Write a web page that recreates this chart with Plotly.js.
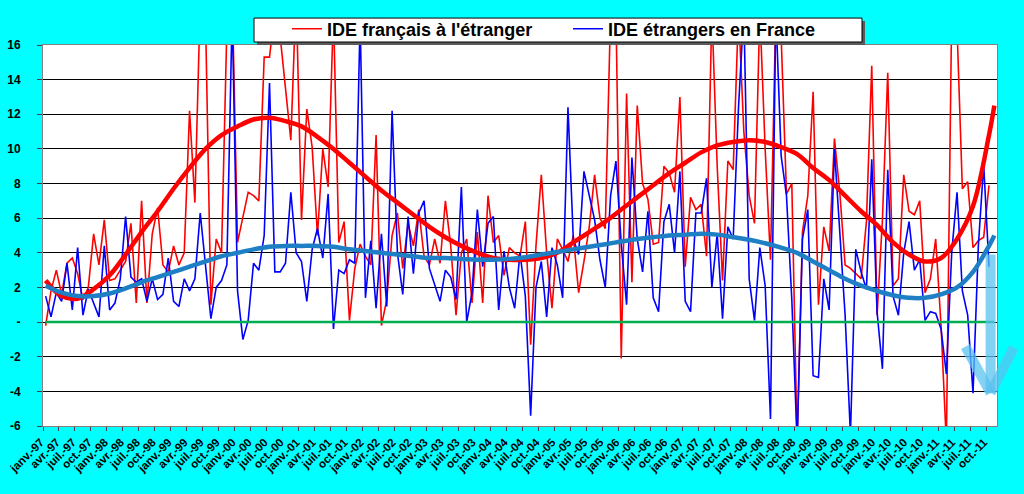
<!DOCTYPE html>
<html lang="fr">
<head>
<meta charset="utf-8">
<title>IDE français à l'étranger / IDE étrangers en France</title>
<script src="https://cdn.plot.ly/plotly-3.0.1.min.js"></script>
<style>
  html, body { margin: 0; padding: 0; background: #00ffff; }
  #chart { width: 1024px; height: 494px; }
</style>
</head>
<body>
<div id="chart"></div>
<script>
/* ============================================================
   DONNÉES
   ============================================================ */

const monthNames = ['janv.', 'févr.', 'mars', 'avr.', 'mai', 'juin',
                    'juil.', 'août', 'sept.', 'oct.', 'nov.', 'déc.'];
const years = ['97', '98', '99', '00', '01', '02', '03', '04',
               '05', '06', '07', '08', '09', '10', '11'];

// janv.-97 ... nov.-11
const months = [];
years.forEach(y => monthNames.forEach(m => months.push(m + '-' + y)));
months.length = 179;

// IDE français à l'étranger (valeurs > 16 sortent du cadre)
const ideFr = [
    -0.2, 1.8, 3.0, 1.6, 3.4, 3.7, 2.8, 1.3, 2.0, 5.1, 3.3, 5.9,
    2.4, 2.5, 3.0, 3.5, 5.7, 1.1, 7.0, 1.1, 5.1, 6.6, 3.3, 2.9,
    4.4, 3.3, 4.0, 12.2, 6.9, 18.5, 17.5, 1.0, 4.8, 4.0, 17.0, 19.0,
    4.6, 6.1, 7.5, 7.3, 7.0, 15.3, 15.3, 18.0, 16.5, 13.5, 10.5, 19.0,
    5.9, 12.3, 10.1, 5.0, 10.0, 7.8, 18.0, 4.6, 5.8, 0.1, 3.1, 4.5,
    3.8, 3.3, 10.8, -0.2, 1.3, 5.0, 6.3, 3.1, 5.7, 4.4, 6.5, 3.8,
    3.3, 4.8, 3.4, 7.0, 4.4, 0.4, 4.0, 4.8, 1.1, 5.2, 1.1, 7.3,
    4.6, 5.0, 2.7, 4.3, 4.0, 3.8, 5.8, -1.3, 4.4, 8.5, 4.0, 0.8,
    4.8, 4.2, 3.5, 5.0, 1.7, 3.5, 5.5, 8.5, 6.0, 5.4, 18.0, 18.0,
    -2.1, 13.2, 2.3, 12.5, 8.0, 7.1, 4.5, 4.6, 9.0, 8.6, 7.5, 13.0,
    3.2, 7.2, 6.5, 6.8, 3.8, 18.0, 9.0, 2.4, 9.3, 8.8, 18.0, 11.0,
    7.3, 5.7, 18.0, 10.0, 3.6, 18.0, 16.5, 7.4, 8.0, -7.0, 5.2, 7.3,
    13.3, 1.0, 5.5, 4.1, 10.6, 7.5, 3.3, 3.1, 2.8, 2.5, 5.8, 14.8,
    0.4, 5.9, 14.4, 2.1, 2.5, 8.5, 6.4, 6.2, 7.0, 1.7, 2.5, 4.8,
    -0.2, -7.0, 18.0, 17.0, 7.7, 8.1, 4.3, 4.7, 4.9, 7.9, null
];

// IDE étrangers en France
const ideEtr = [
    1.5, 0.3, 1.7, 1.2, 3.4, 0.7, 4.3, 0.4, 1.9, 1.1, 0.3, 4.4,
    0.7, 1.1, 2.5, 6.1, 2.6, 2.3, 2.5, 1.2, 2.5, 1.3, 1.6, 3.7,
    1.2, 0.9, 2.5, 1.8, 2.5, 6.3, 3.1, 0.2, 2.0, 2.4, 3.3, 18.0,
    1.8, -1.0, 0.1, 3.4, 3.0, 5.0, 13.8, 2.9, 2.9, 3.4, 7.5, 4.0,
    3.5, 1.2, 4.2, 5.4, 3.7, 7.4, -0.4, 3.0, 2.8, 3.6, 3.4, 17.5,
    1.4, 4.7, 0.8, 5.1, 0.9, 12.2, 4.0, 1.6, 6.1, 2.8, 6.3, 7.0,
    3.1, 2.2, 1.2, 3.0, 2.6, 1.3, 7.8, 0.0, 1.7, 6.5, 3.2, 5.7,
    6.1, 0.7, 4.1, 2.0, 0.8, 4.0, 1.5, -5.4, 2.0, 3.5, 0.3, 4.3,
    3.3, 1.4, 12.4, 4.8, 3.9, 8.7, 7.3, 5.9, 3.6, 2.0, 7.3, 9.3,
    4.5, 1.0, 9.5, 4.8, 2.9, 6.4, 1.4, 0.6, 5.8, 6.8, 4.0, 8.7,
    1.2, 0.6, 6.3, 6.3, 8.3, 2.0, 5.1, 0.2, 5.5, 4.8, 12.4, 18.0,
    2.5, 0.1, 4.3, 2.1, -5.6, 18.0, 9.6, 7.3, 1.3, -7.0, 4.8, 6.5,
    -3.1, -3.2, 2.5, 0.7, 10.0, 5.2, 0.4, -6.5, 4.2, 2.9, 1.9, 9.4,
    0.6, -2.7, 8.8, 1.5, 0.4, 4.0, 5.8, 3.0, 3.6, 0.1, 0.6, 0.5,
    -0.4, -3.0, 4.0, 7.5, 1.8, 0.4, -4.1, 4.4, 9.1, 3.2, null
];

// courbes de tendance, lues chaque trimestre (+ dernier mois)
const trendMonths = months.filter((m, i) => i % 3 === 0 || i === months.length - 1);

const trendFr = [
    2.4, 1.5, 1.35, 1.9, 2.7, 3.9, 5.2, 6.4, 7.7, 8.9, 10.0, 10.8,
    11.3, 11.7, 11.8, 11.6, 11.3, 10.7, 10.0, 9.2, 8.4, 7.6, 6.9, 6.2,
    5.5, 4.9, 4.4, 4.0, 3.7, 3.6, 3.6, 3.7, 4.0, 4.6, 5.2, 5.8,
    6.5, 7.2, 7.9, 8.6, 9.2, 9.8, 10.2, 10.4, 10.5, 10.4, 10.1, 9.7,
    8.9, 8.2, 7.3, 6.4, 5.6, 4.6, 3.9, 3.5, 3.7, 4.8, 6.7, 10.8, 12.5
];

const trendEtr = [
    2.1, 1.7, 1.5, 1.5, 1.65, 1.95, 2.3, 2.6, 2.9, 3.2, 3.5, 3.8,
    4.0, 4.2, 4.35, 4.4, 4.4, 4.4, 4.35, 4.2, 4.1, 4.0, 3.9, 3.8,
    3.7, 3.7, 3.65, 3.6, 3.6, 3.65, 3.75, 3.9, 4.05, 4.2, 4.35, 4.5,
    4.65, 4.8, 4.9, 5.0, 5.05, 5.1, 5.05, 4.9, 4.75, 4.55, 4.3, 4.0,
    3.5, 3.0, 2.5, 2.1, 1.8, 1.55, 1.4, 1.4, 1.6, 2.0, 2.9, 4.4, 5.0
];

const zeroLine = months.map(() => 0);

const yTicks = [-6, -4, -2, 0, 2, 4, 6, 8, 10, 12, 14, 16];
const yTickText = ['-6', '-4', '-2', '-', '2', '4', '6', '8', '10', '12', '14', '16'];

/* ============================================================
   MISE EN PAGE
   ============================================================ */

const FONT = 'Liberation Sans, Arial, Helvetica, sans-serif';
const W = 1024, H = 494;
const M = { l: 43, r: 27, t: 44, b: 68 };

// pixels -> coordonnées papier
function px(x) { return (x - M.l) / (W - M.l - M.r); }
function py(y) { return (H - M.b - y) / (H - M.t - M.b); }

const traces = [
    {
        x: months, y: ideFr, mode: 'lines', name: "IDE français à l'étranger",
        line: { color: '#ff0000', width: 1.6 }
    },
    {
        x: months, y: ideEtr, mode: 'lines', name: 'IDE étrangers en France',
        line: { color: '#0000ff', width: 1.6 }
    },
    {
        x: months, y: zeroLine, mode: 'lines', showlegend: false,
        line: { color: '#00b050', width: 2.5 }
    },
    {
        x: trendMonths, y: trendFr, mode: 'lines', showlegend: false,
        line: { color: '#ff0000', width: 4.5, shape: 'spline' }
    },
    {
        x: trendMonths, y: trendEtr, mode: 'lines', showlegend: false,
        line: { color: '#1f7fc4', width: 4.5, shape: 'spline' }
    }
];

// flèche : tige + deux branches, toutes pointant sur la même pointe
const ARROW = 'rgba(90,195,240,0.75)';
const tip = { x: 177.3, y: -4.1 };
function arrowPart(ax, ay) {
    return {
        x: tip.x, y: tip.y, xref: 'x', yref: 'y',
        ax: ax, ay: ay, text: '',
        showarrow: true, arrowhead: 0, arrowwidth: 10,
        arrowcolor: ARROW
    };
}

const layout = {
    width: W, height: H,
    margin: M,
    paper_bgcolor: '#00ffff',
    plot_bgcolor: '#ffffff',
    hovermode: false,
    font: { family: FONT, color: '#000' },
    xaxis: {
        type: 'category',
        range: [-0.5, months.length - 0.5],
        tickmode: 'linear', tick0: 0, dtick: 3,
        tickson: 'boundaries',
        ticks: 'outside', ticklen: 4, tickcolor: '#404040',
        tickangle: -45,
        ticklabelshift: -5, ticklabelstandoff: 4,
        tickfont: { family: FONT, size: 11.5, weight: 'bold', color: '#000' },
        showgrid: false,
        showline: true, linecolor: '#808080', linewidth: 1, mirror: true
    },
    yaxis: {
        range: [-6, 16],
        tickvals: yTicks, ticktext: yTickText,
        ticks: 'outside', ticklen: 5, tickcolor: '#404040',
        ticklabelstandoff: 14,
        tickfont: { family: FONT, size: 12, weight: 'bold', color: '#000' },
        showgrid: true, gridcolor: '#000000', gridwidth: 1,
        zeroline: false,
        showline: true, linecolor: '#808080', linewidth: 1, mirror: true
    },
    legend: {
        orientation: 'h',
        x: px(287), xanchor: 'left',
        y: py(29), yanchor: 'middle',
        bgcolor: 'rgba(0,0,0,0)', borderwidth: 0,
        itemwidth: 30, entrywidth: 236, entrywidthmode: 'pixels',
        font: { family: FONT, size: 18, weight: 'bold', color: '#000' }
    },
    shapes: [
        // ombre et cadre de la légende
        {
            type: 'rect', xref: 'paper', yref: 'paper', layer: 'above',
            x0: px(257), x1: px(865), y0: py(20), y1: py(44),
            fillcolor: '#5a5a5a', line: { width: 0 }
        },
        {
            type: 'rect', xref: 'paper', yref: 'paper', layer: 'above',
            x0: px(254), x1: px(862), y0: py(17), y1: py(41),
            fillcolor: '#ffffff', line: { color: '#000000', width: 1 }
        }
    ],
    annotations: [
        arrowPart(0, -140),
        arrowPart(-26, -48),
        arrowPart(24, -47)
    ]
};

Plotly.newPlot('chart', traces, layout, { displayModeBar: false, staticPlot: true });
</script>
</body>
</html>
